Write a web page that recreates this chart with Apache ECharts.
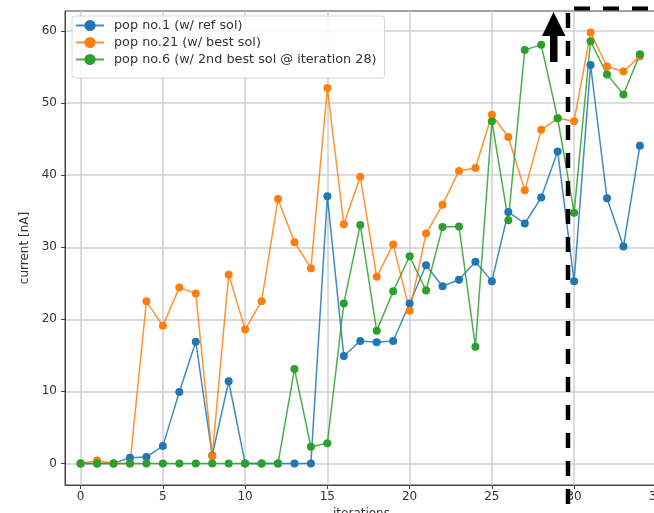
<!DOCTYPE html>
<html>
<head>
<meta charset="utf-8">
<script src="https://cdn.jsdelivr.net/npm/echarts@6/dist/echarts.min.js"></script>
<style>
  html, body { margin: 0; padding: 0; overflow: hidden; background: #fff; }
  #main { width: 654px; height: 513px; }
</style>
</head>
<body>
<div id="main"></div>
<script>
// iteration numbers
const iterations = [0,1,2,3,4,5,6,7,8,9,10,11,12,13,14,15,16,17,18,19,20,21,22,23,24,25,26,27,28,29,30,31,32,33,34]
// pop no.1 (w/ ref sol)
const pop1 = [0,0,0,0.8,0.9,2.4,9.9,16.9,1.1,11.4,0,0,0,0,0,37.1,14.9,17.0,16.8,17.0,22.2,27.5,24.6,25.5,28.0,25.3,34.9,33.3,36.9,43.3,25.3,55.3,36.8,30.1,44.1]
// pop no.21 (w/ best sol)
const pop21 = [0,0.4,0,0,22.5,19.1,24.4,23.6,1.0,26.2,18.6,22.5,36.7,30.7,27.1,52.1,33.2,39.8,25.9,30.4,21.2,31.9,35.9,40.6,41.0,48.4,45.3,37.9,46.3,47.9,47.5,59.8,55.1,54.4,56.5]
// pop no.6 (w/ 2nd best sol @ iteration 28)
const pop6 = [0,0,0,0,0,0,0,0,0,0,0,0,0,13.1,2.3,2.8,22.2,33.1,18.4,23.9,28.75,24.0,32.8,32.9,16.2,47.5,33.75,57.4,58.1,47.9,34.8,58.6,54.0,51.2,56.8]
const seriesNames = ['pop no.1 (w/ ref sol)', 'pop no.21 (w/ best sol)', 'pop no.6 (w/ 2nd best sol @ iteration 28)']
const xTicks = [0,5,10,15,20,25,30,35]
const yTicks = [0,10,20,30,40,50,60]

const colors = ['#1f77b4', '#ff7f0e', '#2ca02c']
const font = 'DejaVu Sans'
const pairs = arr => arr.map((v, i) => [iterations[i], v])

const chart = echarts.init(document.getElementById('main'))

const mkSeries = (name, arr, c) => ({
  name: name,
  type: 'line',
  data: pairs(arr),
  symbol: 'circle',
  symbolSize: 8,
  color: c,
  lineStyle: { width: 1.5, color: c, opacity: 0.85 },
  itemStyle: { color: c },
  emphasis: { disabled: true },
  animation: false
})

chart.setOption({
  backgroundColor: '#fff',
  textStyle: { fontFamily: font },
  grid: {
    left: 65, right: -4, top: 11, bottom: 28,
    outerBoundsMode: 'none',
    containLabel: false,
    show: true, borderColor: '#444', borderWidth: 1
  },
  legend: {
    orient: 'vertical',
    left: 72, top: 16,
    padding: [3, 8, 12, 3],
    itemWidth: 28, itemHeight: 14, itemGap: 4,
    backgroundColor: 'rgba(255,255,255,0.85)',
    borderColor: '#d6d6d6', borderWidth: 1, borderRadius: 3,
    textStyle: { fontFamily: font, fontSize: 12.8, color: '#333', padding: [0, 0, 0, 5] },
    data: seriesNames
  },
  xAxis: {
    type: 'value',
    min: -0.95, max: 35.1,
    name: 'iterations',
    nameLocation: 'middle',
    nameGap: 22,
    nameTextStyle: { fontFamily: font, fontSize: 12, color: '#333' },
    axisLine: { onZero: false, lineStyle: { color: '#444' } },
    axisTick: { show: true, length: 4, customValues: xTicks, lineStyle: { color: '#444' } },
    axisLabel: { customValues: xTicks, margin: 6, fontFamily: font, fontSize: 12, color: '#333' },
    splitLine: { show: true, customValues: xTicks, lineStyle: { color: '#cfcfcf', width: 1.5 } }
  },
  yAxis: {
    type: 'value',
    min: -3, max: 62.8,
    name: 'current [nA]',
    nameLocation: 'middle',
    nameGap: 31,
    nameTextStyle: { fontFamily: font, fontSize: 12, color: '#333' },
    axisLine: { show: true, onZero: false, lineStyle: { color: '#444' } },
    axisTick: { show: true, length: 4, customValues: yTicks, lineStyle: { color: '#444' } },
    axisLabel: { customValues: yTicks, margin: 8, fontFamily: font, fontSize: 12, color: '#333' },
    splitLine: { show: true, customValues: yTicks, lineStyle: { color: '#cfcfcf', width: 1.5 } }
  },
  series: [
    mkSeries(seriesNames[0], pop1, colors[0]),
    mkSeries(seriesNames[1], pop21, colors[1]),
    mkSeries(seriesNames[2], pop6, colors[2])
  ],
  // hand drawn annotation: dashed box + arrow
  graphic: [
    {
      type: 'line', z: 100,
      shape: { x1: 568, y1: 13, x2: 568, y2: 513 },
      style: { stroke: '#000', lineWidth: 4.5, lineDash: [15, 13] }
    },
    {
      type: 'line', z: 100,
      shape: { x1: 574, y1: 8.5, x2: 660, y2: 8.5 },
      style: { stroke: '#000', lineWidth: 4, lineDash: [16, 13] }
    },
    {
      type: 'polygon', z: 100,
      shape: { points: [[553.5, 12], [542, 36], [550, 36], [550, 62], [557.5, 62], [557.5, 36], [565.5, 36]] },
      style: { fill: '#000' }
    }
  ]
})
</script>
</body>
</html>
